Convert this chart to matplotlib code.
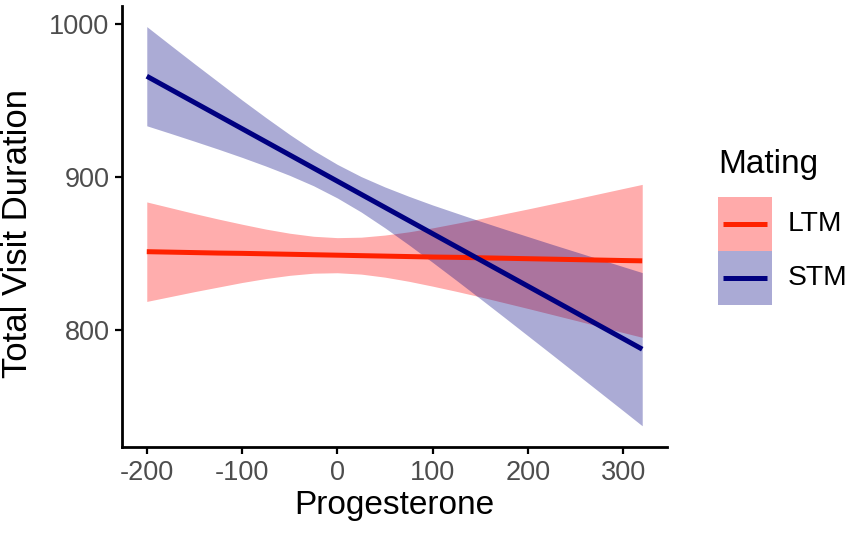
import matplotlib
matplotlib.use("Agg")
import matplotlib.pyplot as plt
from matplotlib.patches import Rectangle
from matplotlib.lines import Line2D

plt.rcParams['font.family'] = ['Liberation Sans', 'DejaVu Sans']

# Data
progesterone = [-200, -175, -150, -125, -100, -75, -50, -25, 0, 25, 50, 75,
                100, 125, 150, 175, 200, 225, 250, 275, 300, 320]

ltm_fit = [851.0, 850.7, 850.4, 850.1, 849.9, 849.6, 849.3, 849.0, 848.7, 848.4, 848.1, 847.8,
           847.5, 847.3, 847.0, 846.7, 846.4, 846.1, 845.8, 845.5, 845.2, 845.0]
ltm_upper = [883.6, 879.8, 876.0, 872.4, 869.0, 865.8, 863.1, 861.1, 860.2, 860.5, 861.9, 864.0,
             866.6, 869.6, 872.6, 875.8, 879.0, 882.3, 885.6, 889.0, 892.4, 895.1]
ltm_lower = [818.4, 821.6, 824.8, 827.8, 830.8, 833.4, 835.5, 836.9, 837.2, 836.3, 834.3, 831.6,
             828.4, 825.0, 821.4, 817.6, 813.8, 809.9, 806.0, 802.0, 798.0, 794.9]

stm_fit = [966.0, 957.4, 948.8, 940.2, 931.6, 923.0, 914.4, 905.8, 897.2, 888.6, 880.0, 871.4,
           862.8, 854.2, 845.6, 837.0, 828.4, 819.8, 811.2, 802.6, 794.0, 787.1]
stm_upper = [998.5, 986.3, 974.2, 962.3, 950.4, 938.9, 927.8, 917.4, 908.2, 900.2, 893.4, 887.3,
             881.6, 876.3, 871.0, 865.9, 860.9, 855.9, 851.0, 846.1, 841.2, 837.3]
stm_lower = [933.5, 928.5, 923.4, 918.2, 912.8, 907.1, 901.0, 894.2, 886.2, 877.0, 866.6, 855.5,
             844.0, 832.2, 820.2, 808.1, 795.9, 783.7, 771.4, 759.1, 746.8, 736.9]

groups = ["LTM", "STM"]
x_ticks = [-200, -100, 0, 100, 200, 300]
y_ticks = [800, 900, 1000]

RED = '#FF2200'
NAVY = '#000080'
RED_FILL = '#FFAAAA'
NAVY_FILL = '#AAAAD5'

W, H = 851, 534
fig = plt.figure(figsize=(W / 100, H / 100), dpi=100)
ax = fig.add_axes([122 / W, 1 - 447 / H, (667 - 122) / W, (447 - 6) / H])

ax.fill_between(progesterone, ltm_lower, ltm_upper, color='#FF0000', alpha=0.32, linewidth=0)
ax.fill_between(progesterone, stm_lower, stm_upper, color=NAVY, alpha=0.33, linewidth=0)
ax.plot(progesterone, ltm_fit, color=RED, linewidth=3.6, solid_capstyle='butt')
ax.plot(progesterone, stm_fit, color=NAVY, linewidth=3.6, solid_capstyle='butt')

ax.set_xlim(-226, 346)
ax.set_ylim(723, 1012)
ax.set_xticks(x_ticks)
ax.set_xticklabels([str(v) for v in x_ticks])
ax.set_yticks(y_ticks)
ax.set_yticklabels([str(v) for v in y_ticks])

for s in ['top', 'right']:
    ax.spines[s].set_visible(False)
for s in ['left', 'bottom']:
    ax.spines[s].set_linewidth(2.0)
    ax.spines[s].set_color('black')
ax.tick_params(axis='both', length=5, width=1.6, color='black', labelsize=19.5,
               labelcolor='#4D4D4D', pad=4)

ax.set_xlabel('Progesterone', fontsize=24, color='black', labelpad=3)
ax.set_ylabel('Total Visit Duration', fontsize=25, color='black')
ax.yaxis.set_label_coords((34 - 122) / 545, 0.485)

# Legend drawn in figure pixels
def fx(px):
    return px / W

def fy(py):
    return 1 - py / H

fig.text(fx(718), fy(165), 'Mating', fontsize=24, ha='left', va='center')
fills = [RED_FILL, NAVY_FILL]
lines = [RED, NAVY]
for i, g in enumerate(groups):
    top = 197 + i * 54
    fig.add_artist(Rectangle((fx(718), fy(top + 54)), 54 / W, 54 / H,
                             transform=fig.transFigure, facecolor=fills[i],
                             edgecolor='none'))
    yc = top + 27
    fig.add_artist(Line2D([fx(723), fx(767)], [fy(yc), fy(yc)],
                          transform=fig.transFigure, color=lines[i],
                          linewidth=3.6, solid_capstyle='butt'))
    fig.text(fx(788), fy(yc), g, fontsize=20.3, ha='left', va='center')

fig.savefig('out.png', dpi=100)
